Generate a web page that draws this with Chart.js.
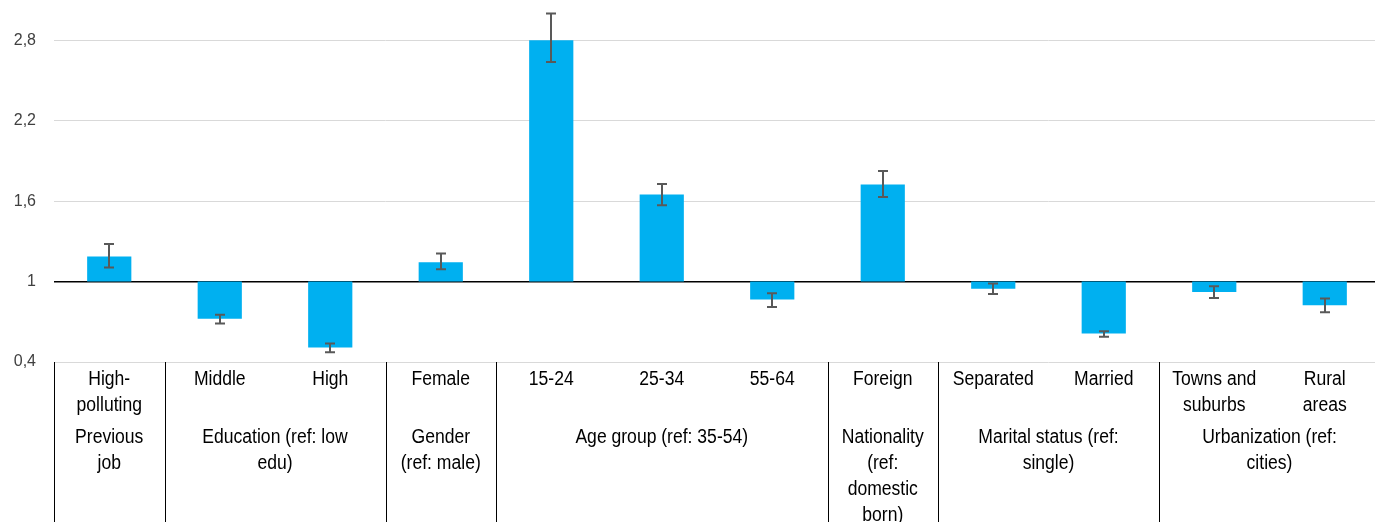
<!DOCTYPE html>
<html>
<head>
<meta charset="utf-8">
<script src="https://cdn.jsdelivr.net/npm/chart.js@4/dist/chart.umd.min.js"></script>
<style>
    html, body { margin: 0; padding: 0; background: #fff; overflow: hidden; }
    canvas { display: block; }
</style>
</head>
<body>
<canvas id="chart" width="1380" height="522"></canvas>
<script>
// Categories (bottom row of the table)
const categories = [
    ['High-', 'polluting'], ['Middle'], ['High'], ['Female'],
    ['15-24'], ['25-34'], ['55-64'], ['Foreign'],
    ['Separated'], ['Married'], ['Towns and', 'suburbs'], ['Rural', 'areas']
];

// Group row: label lines + first/last category index
const groupLabels = [
    ['Previous', 'job'],
    ['Education (ref: low', 'edu)'],
    ['Gender', '(ref: male)'],
    ['Age group (ref: 35-54)'],
    ['Nationality', '(ref:', 'domestic', 'born)'],
    ['Marital status (ref:', 'single)'],
    ['Urbanization (ref:', 'cities)']
];
const groupStart = [0, 1, 3, 4, 7, 8, 10];
const groupEnd = [0, 2, 3, 6, 7, 9, 11];

// Odds ratios and confidence bounds
const oddsRatio = [1.186, 0.722, 0.508, 1.144, 2.80, 1.65, 0.866, 1.723, 0.946, 0.613, 0.923, 0.823];
const ciLow = [1.104, 0.687, 0.473, 1.092, 2.637, 1.569, 0.811, 1.631, 0.908, 0.588, 0.878, 0.771];
const ciHigh = [1.28, 0.752, 0.538, 1.209, 3.0, 1.728, 0.913, 1.825, 0.985, 0.630, 0.965, 0.873];

const yTicks = [0.4, 1, 1.6, 2.2, 2.8];
const baseline = 1;

const errorBarsAndTable = {
    id: 'errorBarsAndTable',
    afterDatasetsDraw(chart) {
        const ctx = chart.ctx;
        const x = chart.scales.x;
        const y = chart.scales.y;
        const area = chart.chartArea;

        // error bars
        ctx.save();
        ctx.strokeStyle = '#595959';
        ctx.lineWidth = 2;
        oddsRatio.forEach((v, i) => {
            const cx = Math.round(x.getPixelForValue(i));
            const yl = y.getPixelForValue(ciLow[i]);
            const yh = y.getPixelForValue(ciHigh[i]);
            ctx.beginPath();
            ctx.moveTo(cx, yl); ctx.lineTo(cx, yh);
            ctx.moveTo(cx - 5, yl); ctx.lineTo(cx + 5, yl);
            ctx.moveTo(cx - 5, yh); ctx.lineTo(cx + 5, yh);
            ctx.stroke();
        });
        ctx.restore();

        // table under the axis
        const step = x.getPixelForValue(1) - x.getPixelForValue(0);
        const top = area.bottom;
        const lineH = 26;
        ctx.save();
        ctx.strokeStyle = '#000';
        ctx.lineWidth = 1;
        groupStart.forEach(s => {
            const bx = Math.round(x.getPixelForValue(s) - step / 2) + 0.5;
            ctx.beginPath();
            ctx.moveTo(bx, top);
            ctx.lineTo(bx, chart.height);
            ctx.stroke();
        });

        ctx.fillStyle = '#000';
        ctx.font = '19.5px "Liberation Sans", Arial, sans-serif';
        ctx.textAlign = 'center';
        ctx.textBaseline = 'middle';
        const drawText = (t, tx, ty) => {
            ctx.save();
            ctx.translate(tx, ty);
            ctx.scale(0.9, 1);
            ctx.fillText(t, 0, 0);
            ctx.restore();
        };
        categories.forEach((lines, i) => {
            const cx = x.getPixelForValue(i);
            lines.forEach((t, k) => drawText(t, cx, top + 18 + k * lineH));
        });
        groupLabels.forEach((lines, g) => {
            const cx = (x.getPixelForValue(groupStart[g]) + x.getPixelForValue(groupEnd[g])) / 2;
            lines.forEach((t, k) => drawText(t, cx, top + 76 + k * lineH));
        });
        ctx.restore();
    }
};

new Chart(document.getElementById('chart'), {
    type: 'bar',
    data: {
        labels: categories.map(c => c.join(' ')),
        datasets: [{
            data: oddsRatio.map(v => [baseline, v]),
            backgroundColor: '#00b0f0',
            borderWidth: 0,
            barPercentage: 0.4,
            categoryPercentage: 1
        }]
    },
    options: {
        responsive: false,
        animation: false,
        devicePixelRatio: 1,
        layout: { padding: { left: 0, right: 0, top: 0, bottom: 160 } },
        plugins: {
            legend: { display: false },
            tooltip: { enabled: false }
        },
        scales: {
            x: { display: false },
            y: {
                min: 0.4,
                max: 3.1,
                afterBuildTicks: s => { s.ticks = yTicks.map(v => ({ value: v })); },
                afterFit: s => { s.width = 54; s.paddingTop = 0; s.paddingBottom = 0; },
                border: { display: false },
                grid: {
                    drawTicks: false,
                    color: c => c.tick.value === baseline ? '#000' : '#d9d9d9',
                    lineWidth: c => c.tick.value === baseline ? 1.5 : 1
                },
                ticks: {
                    padding: 18,
                    color: '#404040',
                    font: { family: '"Liberation Sans", Arial, sans-serif', size: 16 },
                    callback: v => String(v).replace('.', ',')
                }
            }
        }
    },
    plugins: [errorBarsAndTable]
});
</script>
</body>
</html>
